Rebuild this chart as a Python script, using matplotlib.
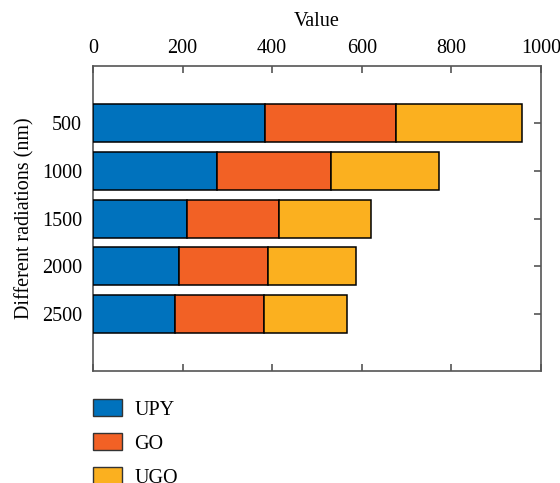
import matplotlib
matplotlib.use('Agg')
import matplotlib.pyplot as plt
import matplotlib.patches as mpatches
import numpy as np

plt.rcParams['font.family'] = ['Liberation Serif', 'DejaVu Serif']

# data
categories = ['500', '1000', '1500', '2000', '2500']
upy = [384, 277, 210, 192, 183]
go = [292, 254, 205, 199, 199]
ugo = [282, 241, 205, 196, 185]
series_names = ['UPY', 'GO', 'UGO']
colors = ['#0072BD', '#F26125', '#FBB01F']

FS = 14.5

fig = plt.figure(figsize=(5.6, 4.83), dpi=100)
ax = fig.add_axes([0.166, 0.232, 0.800, 0.631])

y = np.arange(len(categories))
left = np.zeros(len(categories))
handles = []
for vals, name, col in zip([upy, go, ugo], series_names, colors):
    ax.barh(y, vals, left=left, height=0.8, color=col, edgecolor='black',
            linewidth=1.1, zorder=3)
    left = left + np.array(vals)
    handles.append(mpatches.Patch(facecolor=col, edgecolor='#333333',
                                  linewidth=1.0, label=name))

ax.set_xlim(0, 1000)
ax.set_ylim(len(categories) - 1 + 1.2, -1.2)
ax.set_yticks(y)
ax.set_yticklabels(categories)
ax.set_xticks([0, 200, 400, 600, 800, 1000])

ax.xaxis.tick_top()
ax.xaxis.set_label_position('top')
ax.set_xlabel('Value', fontsize=FS, labelpad=9)
ax.set_ylabel('Different radiations (nm)', fontsize=FS, labelpad=5)

ax.tick_params(axis='both', which='both', direction='in', length=5,
               width=1.2, color='#555555', labelsize=FS,
               top=True, bottom=True, left=True, right=True)
ax.tick_params(axis='x', pad=6)
ax.tick_params(axis='y', pad=8)
for s in ax.spines.values():
    s.set_color('#555555')
    s.set_linewidth(1.2)

# legend sits below the axes, last entry runs off the bottom like the original
fig.legend(handles=handles, loc='upper left', bbox_to_anchor=(0.152, 0.19),
           frameon=False, fontsize=FS, handlelength=1.45, handleheight=0.9,
           handletextpad=0.6, labelspacing=0.68, borderaxespad=0)

plt.savefig('out.png', dpi=100, facecolor='white')
plt.close()
